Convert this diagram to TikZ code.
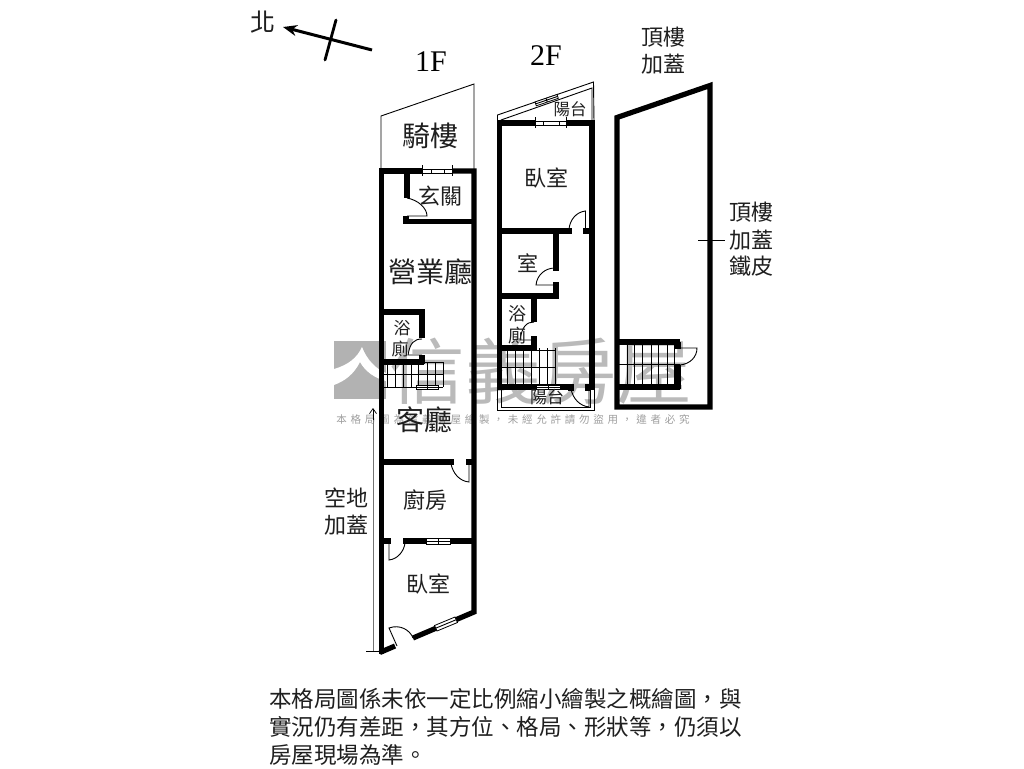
\documentclass[tikz,border=0pt]{standalone}
\usetikzlibrary{arrows.meta}
\usepackage{fontspec}
\setmainfont{Liberation Serif}
\newfontfamily\cjk{Noto Sans CJK TC}
\newfontfamily\cjkspaced[LetterSpace=36]{Noto Sans CJK TC}
\newcommand{\fsz}[1]{\fontsize{#1}{#1}\selectfont}
\tikzset{
  wall/.style={line width=5.2pt,line cap=butt,line join=miter,black},
  thinw/.style={line width=0.9pt,black},
  tread/.style={line width=1pt,black},
  doorleaf/.style={line width=0.9pt,black},
  lbl/.style={inner sep=0pt,font=\cjk\fsz{#1},text=black!88},
  lbl/.default=22,
  winbox/.style={draw=black,fill=white,line width=0.8pt},
}
\begin{document}
\begin{tikzpicture}[x=1pt,y=-1pt]
\useasboundingbox (0,0) rectangle (1024,768);
\fill[white] (0,0) rectangle (1024,768);
% watermark
\fill[black!30] (334,341) rectangle (386,399);
\fill[white] (334,369) .. controls (348,365) and (357,358) .. (362,347) .. controls (367,360) and (376,369) .. (386,373) -- (386,381) .. controls (374,378) and (365,371) .. (360,362) .. controls (354,374) and (345,381) .. (334,385) -- cycle;
\node[inner sep=0pt,text=black!27] (wmark) at (541,371) {\scalebox{1.05}[1]{\cjk\fsz{72}信義房屋}};
\node[inner sep=0pt,text=black!38] (wmsmall) at (513,420) {\cjkspaced\fsz{10.5}本格局圖為信義房屋繪製，未經允許請勿盜用，違者必究};
% north arrow
\draw[line width=3pt,-{Stealth[length=14pt,width=11pt]}] (372,50) -- (283,27);
\draw[line width=2.8pt,line cap=round] (336,20) -- (325,60);
\node[lbl=25] (north) at (263,22) {北};
\node[inner sep=0pt,font=\fsz{30}] (f1) at (431,62) {1F};
\node[inner sep=0pt,font=\fsz{30}] (f2) at (546,56) {2F};
% ---- 1F
\draw[thinw] (381,170) -- (381,116) -- (474,84) -- (474,170);
\draw[wall] (381.8,654) -- (381.8,171) -- (422,171);
\draw[wall] (452,171) -- (474,171) -- (474,612) -- (413,638);
\draw[wall] (379.8,652.5) -- (395,646);
\draw[line width=1pt] (422,165) -- (422,176) (452,165) -- (452,176);
\draw[thinw] (422,169.5) -- (452,169.5) (422,173.5) -- (452,173.5);
\draw[winbox] (431,169.5) rectangle (444,173.5);
% entry
\draw[wall] (407,171) -- (407,198);
\draw[wall] (405,221.5) -- (472,221.5);
\draw[wall] (406,216) -- (406,224);
\draw[doorleaf] (407,198) .. controls (418,200) and (427,208) .. (427,216) -- (407,216);
% bath 1F
\draw[wall] (382,312) -- (422,312) -- (422,338);
\draw[wall] (382,362) -- (424,362);
\draw[wall] (422,355) -- (422,364);
\draw[doorleaf] (422,339) .. controls (414,339) and (410,343) .. (408,355) -- (422,355);
% stairs 1F
\foreach \tx in {387,395,403,411,418,427,435,443} \draw[tread] (\tx,362) -- (\tx,387);
\draw[tread] (424,362) -- (443,362) (382,374) -- (443,374) (382,387) -- (443,387);
\draw[winbox] (416,385) rectangle (438,389.5);
\draw[thinw] (427,385) -- (427,389.5) (416,387.2) -- (438,387.2);
% kitchen wall
\draw[wall] (382,462) -- (451,462);
\draw[wall] (451,459) -- (451,465) (469,459) -- (469,465);
\draw[doorleaf] (469,462) -- (469,482) .. controls (459,481) and (453,473) .. (451,464);
% wall between kitchen & bedroom
\draw[wall] (382,541) -- (388,541);
\draw[wall] (388,538) -- (388,544) (406,538) -- (406,544);
\draw[wall] (406,541) -- (474,541);
\draw[doorleaf] (389,541) -- (389,560) .. controls (398,559) and (404,551) .. (405,543);
\draw[winbox] (426,538.5) rectangle (450,544);
\draw[thinw] (438,538.5) -- (438,544) (426,541.2) -- (450,541.2);
% bedroom door and window
\draw[doorleaf] (397,646) -- (389,628) .. controls (400,624) and (410,630) .. (413,638);
\draw[winbox] (434.5,625.5) -- (455,617) -- (457.5,622.5) -- (437,631) -- cycle;
\draw[thinw] (435.7,628.2) -- (456.2,619.7);
% dimension
\draw[line width=1.3pt,black!55] (373.5,412) -- (373.5,651);
\draw[line width=0.7pt,-{Straight Barb[length=5pt,width=7pt]}] (373,420) -- (373,408);
\draw[line width=0.7pt] (366,651) -- (381,651);
% ---- 2F
\draw[thinw] (497.5,123) -- (497.5,115) -- (593.5,82) -- (594,123);
\draw[thinw] (501,123) -- (501,120) -- (592,88) -- (592,123);
\draw[winbox] (535,102) -- (557,94.5) -- (558.3,98.3) -- (536.3,105.8) -- cycle;
\draw[thinw] (535.6,103.9) -- (557.6,96.4) (546,98.3) -- (547.3,102);
\draw[wall] (499.8,389) -- (499.8,123) -- (535,123);
\draw[wall] (566,123) -- (592,123) -- (592,389);
\draw[line width=1pt] (535,117) -- (535,128) (566,117) -- (566,128);
\draw[thinw] (535,121.5) -- (566,121.5) (535,125) -- (566,125);
\draw[winbox] (543,121.5) rectangle (559,125);
\draw[wall] (498,231) -- (569,231);
\draw[wall] (569,228) -- (569,234) (586,228) -- (586,234);
\draw[wall] (586,231) -- (594,231);
\draw[doorleaf] (585.5,231) -- (585.5,211) .. controls (576,212) and (570,220) .. (569,229);
\draw[wall] (556,231) -- (556,268);
\draw[wall] (553,268) -- (559,268);
\draw[wall] (498,296) -- (558.5,296);
\draw[wall] (556,296) -- (556,285);
\draw[wall] (553,285) -- (559,285);
\draw[doorleaf] (555,268) .. controls (545,268) and (537,275) .. (536,285) -- (555,285);
\draw[wall] (534,296) -- (534,322);
\draw[doorleaf] (534,322) .. controls (527,322) and (522,326) .. (520,340) -- (534,340);
\draw[wall] (498,348) -- (536.5,348);
\draw[wall] (534,348) -- (534,339);
\draw[wall] (531,339) -- (537,339);
% stairs 2F
\foreach \tx in {507,515,523,531,539,547,555} \draw[tread] (\tx,348) -- (\tx,387);
\draw[tread] (534,350) -- (555,350) (500,367) -- (555,367);
\draw[wall] (498,387) -- (571,387);
\draw[wall] (588,387) -- (594,387);
\draw[wall] (571,384) -- (571,391) (588,384) -- (588,391);
\draw[winbox] (536,385) rectangle (560,389.5);
\draw[thinw] (548,385) -- (548,389.5) (536,387.2) -- (560,387.2);
\draw[thinw] (497.5,387) -- (497.5,410) -- (594,410) -- (594,387);
\draw[thinw] (501,389) -- (501,407) -- (590,407) -- (590,389);
\draw[doorleaf] (571,389) .. controls (573,399) and (580,406) .. (589,407) -- (589,389);
% ---- Roof
\draw[wall] (617,407) -- (617,117.5) -- (710,85.5) -- (710,407) -- cycle;
\draw[wall] (617,342) -- (680,342);
\draw[wall] (678,342) -- (678,349);
\draw[wall] (678,365) -- (678,389);
\draw[wall] (617,387) -- (680,387);
\foreach \tx in {627,634,642,651,658,667,674} \draw[tread] (\tx,342) -- (\tx,387);
\draw[tread] (617,364) -- (680,364);
\draw[doorleaf] (680,348) -- (697,348) .. controls (697,357) and (690,364) .. (680,365);
\draw[thinw] (698,240) -- (725,240);
% labels
\node[lbl=28] (a1) at (430,136) {騎樓};
\node[lbl=22] (a2) at (440,196) {玄關};
\node[lbl=28] (a3) at (430,272) {營業廳};
\node[lbl=17] (a4) at (402,328) {浴};
\node[lbl=17] (a5) at (400,349) {廁};
\node[lbl=28] (a6) at (424,420) {客廳};
\node[lbl=22] (a7) at (425,500) {廚房};
\node[lbl=22] (a8) at (428,584) {臥室};
\node[lbl=22] (a9) at (346,498) {空地};
\node[lbl=22] (a10) at (346,525) {加蓋};
\node[lbl=22] (b1) at (546,178) {臥室};
\node[lbl=21] (b2) at (528,263) {室};
\node[lbl=18] (b3) at (517,314) {浴};
\node[lbl=18] (b4) at (517,336) {廁};
\node[lbl=16.5] (b5) at (570,109) {陽台};
\node[lbl=17] (b6) at (547,397) {陽台};
\node[lbl=22] (c1) at (663,37) {頂樓};
\node[lbl=22] (c2) at (663,64) {加蓋};
\node[lbl=22] (c3) at (751,212) {頂樓};
\node[lbl=22] (c4) at (751,240) {加蓋};
\node[lbl=22] (c5) at (751,266) {鐵皮};
\node[lbl=22.5,anchor=west] (n1) at (269,699) {本格局圖係未依一定比例縮小繪製之概繪圖，與};
\node[lbl=22.5,anchor=west] (n2) at (269,727) {實況仍有差距，其方位、格局、形狀等，仍須以};
\node[lbl=22.5,anchor=west] (n3) at (269,755) {房屋現場為準。};
\end{tikzpicture}
\end{document}
